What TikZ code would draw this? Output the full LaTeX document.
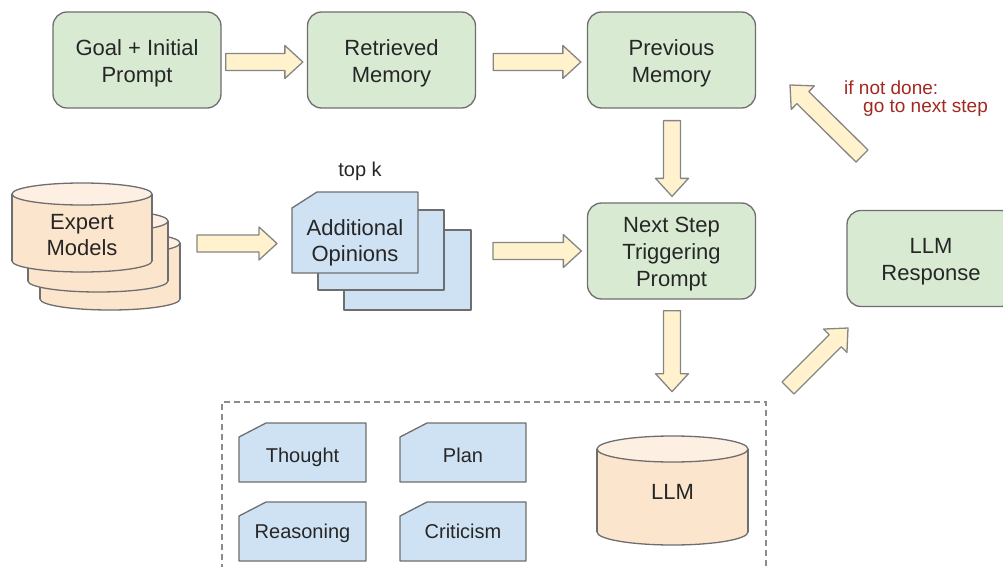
\documentclass[tikz,border=0pt]{standalone}
\usepackage{fontspec}
\setmainfont{Liberation Sans}
\usetikzlibrary{calc}

\definecolor{boxgreen}{HTML}{D9EAD3}
\definecolor{edgegray}{HTML}{6E6E6E}
\definecolor{arrowfill}{HTML}{FFF2CC}
\definecolor{arrowedge}{HTML}{858585}
\definecolor{peach}{HTML}{FCE5CD}
\definecolor{peachtop}{HTML}{FDF0E3}
\definecolor{docblue}{HTML}{CFE2F3}
\definecolor{dashgray}{HTML}{8C8C8C}
\definecolor{textdark}{HTML}{262626}
\definecolor{notered}{HTML}{A3281F}

% invisible strut that gives the first text line a little more headroom
\newcommand\lift{\rule{0pt}{22pt}}

\tikzset{
  procbox/.style={draw=edgegray, fill=boxgreen, line width=1.3pt, rounded corners=14pt,
    minimum width=168pt, minimum height=96pt, align=center, text=textdark,
    font=\fontsize{22}{27}\selectfont},
  blockarrow/.style={draw=arrowedge, fill=arrowfill, line width=1.3pt, line join=round},
  docshape/.style={draw=edgegray, fill=docblue, line width=1.3pt, line join=round},
  cylbody/.style={draw=edgegray, fill=peach, line width=1.3pt},
  cyltop/.style={draw=edgegray, fill=peachtop, line width=1.3pt},
  label22/.style={align=center, text=textdark, font=\fontsize{22}{26}\selectfont},
  label20/.style={align=center, text=textdark, font=\fontsize{20}{24}\selectfont},
  cardlabel/.style={text=textdark, font=\fontsize{20}{24}\selectfont,
    text height=14.5pt, text depth=4.5pt},
  note/.style={anchor=west, text=notered, font=\fontsize{19}{23}\selectfont, inner sep=0pt},
  groupbox/.style={draw=dashgray, line width=1.3pt, dash pattern=on 6pt off 4pt},
}

% fat block arrow from #1 to #2 (named coordinates)
\newcommand\fatarrow[2]{%
  \coordinate (fa-h) at ($(#2)!18pt!(#1)$);
  \draw[blockarrow] ($(#1)!8.5pt!90:(#2)$) -- ($(fa-h)!8.5pt!90:(#2)$)
    -- ($(fa-h)!16.5pt!90:(#2)$) -- (#2) -- ($(fa-h)!16.5pt!-90:(#2)$)
    -- ($(fa-h)!8.5pt!-90:(#2)$) -- ($(#1)!8.5pt!-90:(#2)$) -- cycle;
}

% upright cylinder: centre x, x radius, top-ellipse y, bottom-ellipse y, y radius
\newcommand\drumshape[5]{%
  \draw[cylbody] (#1,#4) ellipse [x radius=#2, y radius=#5];
  \fill[peach] (#1-#2,#3) rectangle (#1+#2,#4);
  \draw[edgegray, line width=1.3pt] (#1-#2,#3) -- (#1-#2,#4) (#1+#2,#3) -- (#1+#2,#4);
  \draw[cyltop] (#1,#3) ellipse [x radius=#2, y radius=#5];
}

% card with a snipped top-left corner: x1, y1, x2, y2, snip x, snip y
\newcommand\cardshape[6]{%
  \draw[docshape] (#1,#2+#6) -- (#1+#5,#2) -- (#3,#2) -- (#3,#4) -- (#1,#4) -- cycle;
}

\begin{document}
\begin{tikzpicture}[x=1pt, y=-1pt]
\useasboundingbox (0,0) rectangle (1003,567);
\clip (0,0) rectangle (1003,567);

% process boxes
\node[procbox] (goal) at (137,60) {\lift Goal + Initial\\Prompt};
\node[procbox] (retr) at (391.5,60) {\lift Retrieved\\Memory};
\node[procbox] (prev) at (671.5,60) {\lift Previous\\Memory};
\node[procbox] (next) at (671.5,251) {\lift Next Step\\Triggering\\Prompt};
\node[procbox] (resp) at (931,258.5) {\lift LLM\\Response};

% expert models (stacked drums)
\drumshape{110}{70}{243}{299}{11}
\drumshape{98}{70}{221}{281}{11}
\drumshape{82}{70}{194}{261}{11}
\node[label22] (expert) at (82,235) {Expert\\Models};

% additional opinions (stacked cards)
\draw[docshape] (344,230) rectangle (471,310);
\draw[docshape] (318,210) rectangle (444,290);
\cardshape{292}{192}{418}{273}{25}{16}
\node[label22] (opin) at (355,242.5) {Additional\\Opinions};
\node[label20] (topk) at (360,171) {top k};

% grouped LLM internals
\draw[groupbox] (222,580) -- (222,402) -- (766,402) -- (766,580);
\cardshape{239}{423}{366}{482}{27}{14}
\cardshape{400}{423}{526}{482}{27}{14}
\cardshape{239}{502}{366}{561}{27}{14}
\cardshape{400}{502}{526}{561}{27}{14}
\node[cardlabel] (thought) at (302.5,457) {Thought};
\node[cardlabel] (plan) at (463,457) {Plan};
\node[cardlabel] (reason) at (302.5,533) {Reasoning};
\node[cardlabel] (critic) at (463,533) {Criticism};
\drumshape{672.5}{75.5}{449}{532}{13}
\node[label22] (llm) at (672.5,492) {LLM};

% loop note
\node[note] (note1) at (844,88) {if not done:};
\node[note] (note2) at (863,108) {go to next step};

% arrow end points
\coordinate (g2r-s) at ($(goal.east)+(4,2)$);
\coordinate (g2r-e) at ($(retr.west)+(-4,2)$);
\coordinate (r2p-s) at ($(retr.east)+(17,2)$);
\coordinate (r2p-e) at ($(prev.west)+(-6,2)$);
\coordinate (p2n-s) at ($(prev.south)+(0.5,12)$);
\coordinate (p2n-e) at ($(next.north)+(0.5,-6)$);
\coordinate (n2l-s) at ($(next.south)+(0.5,11)$);
\coordinate (n2l-e) at ($(next.south)+(0.5,92)$);
\coordinate (e2o-s) at (197,243.5);
\coordinate (e2o-e) at (277,243.5);
\coordinate (o2n-s) at (493,251);
\coordinate (o2n-e) at ($(next.west)+(-5.5,0)$);
\coordinate (l2r-s) at (788,388);
\coordinate (l2r-e) at (848,328);
\coordinate (r2p2-s) at (862,156);
\coordinate (r2p2-e) at (790,85);

\fatarrow{g2r-s}{g2r-e}
\fatarrow{r2p-s}{r2p-e}
\fatarrow{p2n-s}{p2n-e}
\fatarrow{n2l-s}{n2l-e}
\fatarrow{e2o-s}{e2o-e}
\fatarrow{o2n-s}{o2n-e}
\fatarrow{l2r-s}{l2r-e}
\fatarrow{r2p2-s}{r2p2-e}
\end{tikzpicture}
\end{document}
